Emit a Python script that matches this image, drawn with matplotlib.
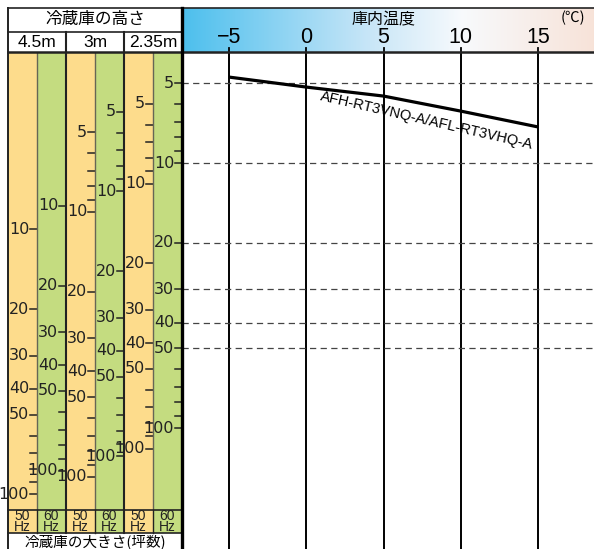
# 冷蔵庫の大きさ(坪数)と庫内温度の選定図
import matplotlib.pyplot as plt
from matplotlib import font_manager
from matplotlib.lines import Line2D
from matplotlib.colors import LinearSegmentedColormap
import numpy as np

# ---- データ ----
temps = [-5, 0, 5, 10, 15]                       # 庫内温度 (℃)
curve_tsubo = [4.74, 5.17, 5.59, 6.37, 7.31]      # 2.35m / 60Hz 目盛での坪数
model_label = "AFH-RT3VNQ-A/AFL-RT3VHQ-A"
heights = ["4.5m", "3m", "2.35m"]
freqs = ["50", "60", "50", "60", "50", "60"]
col_factor = [1.78, 1.45, 1.53, 1.28, 1.195, 1.0]  # 2.35m/60Hz 目盛に対する倍率
col_start = [10, 10, 5, 5, 5, 5]
major_ticks = [5, 10, 20, 30, 40, 50, 100]
minor_ticks = [6, 7, 8, 9, 60, 70, 80, 90]
grid_tsubo = [5, 10, 20, 30, 40, 50]

# ---- レイアウト (ピクセル) ----
W, H = 594, 549
Y10, DEC = 163, 265          # 坪数10の位置, 1桁あたりのピクセル
X_M5, PX_PER_C = 229, 15.45  # -5℃の位置, 1℃あたりのピクセル


def px2val(py):
    return 10 * 10 ** ((py - Y10) / DEC)


def px2temp(px):
    return -5 + (px - X_M5) / PX_PER_C


names = {f.name for f in font_manager.fontManager.ttflist}
NARROW = "Liberation Sans Narrow" if "Liberation Sans Narrow" in names else "DejaVu Sans"
JP = ["Noto Sans CJK JP", "DejaVu Sans"]
plt.rcParams["font.family"] = ["Liberation Sans", "Noto Sans CJK JP", "DejaVu Sans"]

ORANGE = "#FDDC8C"
GREEN = "#C4DC80"

fig = plt.figure(figsize=(W / 100, H / 100), dpi=100)


def add_ax(x0, y0, x1, y1):
    a = fig.add_axes([x0 / W, 1 - y1 / H, (x1 - x0) / W, (y1 - y0) / H])
    a.axis("off")
    return a


def hline(y, x0, x1, lw=1.2, color="#222222"):
    fig.add_artist(Line2D([x0 / W, x1 / W], [1 - y / H, 1 - y / H],
                          transform=fig.transFigure, lw=lw, color=color))


def vline(x, y0, y1, lw=1.2, color="#222222"):
    fig.add_artist(Line2D([x / W, x / W], [1 - y0 / H, 1 - y1 / H],
                          transform=fig.transFigure, lw=lw, color=color))


# ---- 右側: 温度ヘッダー ----
axR = add_ax(182, 8, 594, 52)
xl = (px2temp(182), px2temp(594))
axR.set_xlim(*xl)
axR.set_ylim(0, 1)
cmap = LinearSegmentedColormap.from_list(
    "hdr", [(0.0, (0.30, 0.75, 0.93)), (0.45, (0.78, 0.90, 0.97)),
            (0.68, (0.97, 0.98, 0.99)), (1.0, (0.97, 0.89, 0.85))])
axR.imshow(np.linspace(0, 1, 256)[None, :], cmap=cmap, aspect="auto",
           extent=[xl[0], xl[1], 0, 1])
for t in temps:
    axR.plot([t, t], [0, 0.09], color="black", lw=1.3)
    axR.text(t, 0.32, f"{t}".replace("-", "\u2212"), ha="center", va="center",
             fontsize=15.5)
axR.text(px2temp(384), 0.72, "庫内温度", ha="center", va="center",
         fontsize=11.5, family=JP)
axR.text(px2temp(585), 0.78, "(℃)", ha="right", va="center", fontsize=10.5,
         family=JP)

# ---- 右側: グラフ本体 ----
ax = add_ax(182, 52, 594, 549)
ax.set_xlim(*xl)
ax.set_yscale("log")
ax.set_ylim(px2val(549), px2val(52))
for t in temps:
    ax.axvline(t, color="black", lw=1.4)
for v in grid_tsubo:
    ax.axhline(v, color="#444444", lw=0.9, dashes=(5, 3.5))
ax.plot(temps, curve_tsubo, color="black", lw=2.3, solid_capstyle="butt")
ax.text(7.8, 6.95, model_label, rotation=-13, ha="center", va="center",
        rotation_mode="anchor", fontsize=10.5)

# ---- 左側: 坪数の目盛 ----
axL = add_ax(8, 52, 182, 510)
axL.set_xlim(0, 6)
axL.set_yscale("log")
axL.set_ylim(px2val(510), px2val(52))
for i in range(6):
    axL.axvspan(i, i + 1, color=ORANGE if i % 2 == 0 else GREEN, lw=0)
    for v in major_ticks + minor_ticks:
        if v < col_start[i]:
            continue
        y = v * col_factor[i]
        axL.plot([i + 1 - 0.25, i + 1], [y, y], color="#222222", lw=1.1)
        if v in major_ticks:
            axL.text(i + 1 - 0.27, y, str(v), ha="right", va="center",
                     fontsize=11.5, family=NARROW, color="#222222")
for b in [1, 3, 5]:
    axL.axvline(b, color="#666655", lw=1.0)

# 周波数の行
axH = add_ax(8, 510, 182, 533)
axH.set_xlim(0, 6)
axH.set_ylim(0, 1)
for i, f in enumerate(freqs):
    axH.axvspan(i, i + 1, color=ORANGE if i % 2 == 0 else GREEN, lw=0)
    axH.text(i + 0.5, 0.5, f"{f}\nHz", ha="center", va="center",
             fontsize=10, linespacing=0.75, color="#222222")

# 左ヘッダー
axT = add_ax(8, 8, 182, 52)
axT.set_xlim(0, 6)
axT.set_ylim(0, 1)
axT.text(3, 0.73, "冷蔵庫の高さ", ha="center", va="center", fontsize=12,
         family=JP)
for k, h in enumerate(heights):
    axT.text(2 * k + 1, 0.22, h, ha="center", va="center", fontsize=12.5)

axB = add_ax(8, 533, 182, 549)
axB.set_xlim(0, 1)
axB.set_ylim(0, 1)
axB.text(0.5, 0.45, "冷蔵庫の大きさ(坪数)", ha="center", va="center",
         fontsize=10.5, family=JP)

# ---- 枠線 ----
hline(8, 8, 594, lw=1.2)
hline(32, 8, 182, lw=1.2)
hline(52, 8, 594, lw=1.8)
hline(510, 8, 182, lw=1.2)
hline(533, 8, 182, lw=1.2)
vline(8, 8, 549, lw=1.4)
vline(66, 32, 533, lw=1.5)
vline(124, 32, 533, lw=1.5)
for x in [37, 95, 153]:
    vline(x, 510, 533, lw=1.0)
vline(182, 8, 549, lw=2.4, color="black")

fig.savefig("out.png", dpi=100)
